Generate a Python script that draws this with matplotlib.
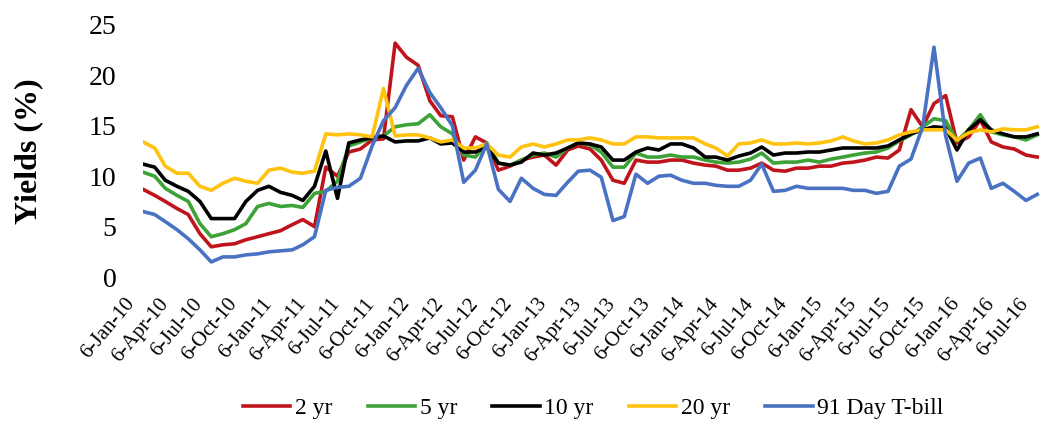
import pandas as pd
import matplotlib.pyplot as plt
from matplotlib.transforms import ScaledTranslation

# monthly readings (6th of each month), Jan 2010 .. Jul 2016
start = "2010-01-06"

yr2 = [8.7, 8.1, 7.5, 6.8, 6.2, 4.3, 3.0, 3.2, 3.3, 3.7, 4.0, 4.3, 4.6, 5.2, 5.7, 5.0,
       10.9, 10.0, 12.4, 12.7, 13.6, 13.7, 23.2, 21.8, 21.0, 17.5, 16.0, 15.9, 11.6, 13.9,
       13.3, 10.6, 11.0, 11.6, 11.9, 12.1, 11.1, 12.6, 13.0, 12.7, 11.6, 9.6, 9.3, 11.6,
       11.4, 11.4, 11.6, 11.6, 11.3, 11.1, 11.0, 10.6, 10.6, 10.8, 11.3, 10.6, 10.5, 10.8,
       10.8, 11.0, 11.0, 11.3, 11.4, 11.6, 11.9, 11.8, 12.6, 16.6, 14.9, 17.2, 18.0, 13.3,
       13.9, 15.6, 13.4, 12.9, 12.7, 12.1, 11.9]

yr5 = [10.4, 10.0, 8.8, 8.1, 7.5, 5.3, 4.0, 4.3, 4.7, 5.3, 7.0, 7.3, 7.0, 7.1, 6.9, 8.3,
       8.5, 9.5, 13.0, 13.4, 13.8, 14.0, 14.9, 15.1, 15.2, 16.1, 14.9, 14.2, 12.1, 11.9,
       13.3, 11.3, 11.1, 11.6, 12.1, 12.3, 11.9, 12.8, 13.3, 13.1, 12.4, 10.9, 10.9, 12.3,
       11.9, 11.9, 12.1, 11.9, 11.9, 11.6, 11.4, 11.3, 11.4, 11.7, 12.3, 11.3, 11.4, 11.4,
       11.6, 11.4, 11.7, 11.9, 12.1, 12.3, 12.4, 12.8, 13.5, 14.1, 14.9, 15.7, 15.5, 13.5,
       14.6, 16.1, 14.4, 14.1, 13.9, 13.6, 14.1]

yr10 = [11.2, 10.9, 9.6, 9.0, 8.5, 7.5, 5.8, 5.8, 5.8, 7.5, 8.6, 9.0, 8.4, 8.1, 7.6, 9.0,
        12.5, 7.8, 13.3, 13.6, 13.8, 14.0, 13.4, 13.5, 13.5, 13.8, 13.2, 13.3, 12.4, 12.4,
        12.9, 11.3, 11.1, 11.4, 12.3, 12.1, 12.3, 12.8, 13.3, 13.2, 12.9, 11.6, 11.6, 12.4,
        12.8, 12.6, 13.2, 13.2, 12.8, 11.9, 11.9, 11.6, 12.0, 12.3, 12.9, 12.1, 12.3, 12.3,
        12.4, 12.4, 12.6, 12.8, 12.8, 12.8, 12.8, 13.0, 13.6, 14.2, 14.6, 14.9, 14.8, 12.6,
        14.6, 15.6, 14.6, 14.2, 13.9, 13.9, 14.2]

yr20 = [13.4, 12.8, 11.0, 10.3, 10.3, 9.0, 8.6, 9.3, 9.8, 9.5, 9.3, 10.6, 10.8, 10.4, 10.3,
        10.5, 14.2, 14.1, 14.2, 14.1, 13.9, 18.7, 14.0, 14.1, 14.1, 13.8, 13.4, 13.6, 12.8,
        12.8, 13.2, 12.1, 11.9, 12.9, 13.2, 12.9, 13.2, 13.6, 13.6, 13.8, 13.6, 13.2, 13.2,
        13.9, 13.9, 13.8, 13.8, 13.8, 13.8, 13.2, 12.8, 12.0, 13.2, 13.3, 13.6, 13.2, 13.2,
        13.3, 13.2, 13.3, 13.5, 13.9, 13.5, 13.2, 13.3, 13.6, 14.1, 14.4, 14.6, 14.6, 14.6,
        13.6, 14.3, 14.6, 14.4, 14.7, 14.6, 14.6, 14.9]

tbill = [6.5, 6.2, 5.5, 4.7, 3.8, 2.7, 1.5, 2.0, 2.0, 2.2, 2.3, 2.5, 2.6, 2.7, 3.2, 4.0,
         8.6, 8.9, 9.0, 9.8, 13.0, 15.5, 16.8, 19.0, 20.7, 18.3, 16.8, 15.0, 9.4, 10.6,
         13.2, 8.7, 7.5, 9.8, 8.8, 8.2, 8.1, 9.4, 10.5, 10.6, 9.9, 5.6, 6.0, 10.2, 9.3,
         10.0, 10.1, 9.6, 9.3, 9.3, 9.1, 9.0, 9.0, 9.6, 11.2, 8.5, 8.6, 9.0, 8.8, 8.8, 8.8,
         8.8, 8.6, 8.6, 8.3, 8.5, 11.0, 11.7, 14.9, 22.8, 14.0, 9.5, 11.3, 11.8, 8.8, 9.3,
         8.5, 7.6, 8.2]

labels = ["2 yr", "5 yr", "10 yr", "20 yr", "91 Day T-bill"]
colors = ["#C0141C", "#3DA237", "#000000", "#FFC20E", "#4A72C2"]


def main():
    plt.rcParams["font.family"] = ["Liberation Serif", "DejaVu Serif"]

    dates = pd.date_range(start, periods=len(tbill), freq=pd.DateOffset(months=1))
    series = [yr2, yr5, yr10, yr20, tbill]

    fig = plt.figure(figsize=(10.41, 4.23), dpi=100)
    ax = fig.add_axes([0.1374, 0.345, 0.8626, 0.596])

    for vals, lab, col in zip(series, labels, colors):
        ax.plot(dates, vals, color=col, lw=2.6, label=lab)

    ax.set_ylim(0, 25)
    ax.set_yticks(range(0, 26, 5))
    ax.set_xlim(dates[0], dates[-1] + pd.Timedelta(days=10))

    for s in ax.spines.values():
        s.set_visible(False)
    ax.tick_params(axis="y", length=0, pad=19, labelsize=20)
    ax.tick_params(axis="x", length=0, pad=17, labelsize=15)

    qdates = dates[::3]
    ax.set_xticks(qdates)
    ax.set_xticklabels([f"{d.day}-{d.strftime('%b-%y')}" for d in qdates],
                       rotation=50, ha="right", va="center", rotation_mode="anchor")
    # nudge the rotated labels to the left so the last one stays inside
    # (done after tick_params, which would reset the transforms)
    shift = ScaledTranslation(-12 / 100, 0, fig.dpi_scale_trans)
    for t in ax.get_xticklabels():
        t.set_transform(t.get_transform() + shift)

    ax.set_ylabel("Yields (%)", fontsize=23, fontweight="bold", labelpad=33)

    fig.legend(loc="center", bbox_to_anchor=(0.57, 0.035), ncol=5, frameon=False,
               fontsize=17, handlelength=2.0, handletextpad=0.2, columnspacing=1.5)

    fig.savefig("out.png", dpi=100)


if __name__ == "__main__":
    main()
